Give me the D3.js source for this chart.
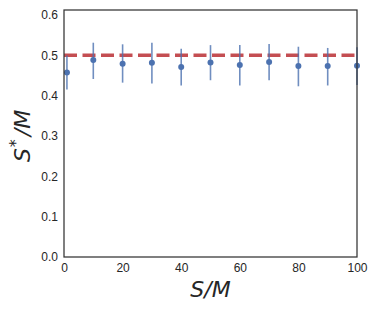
<!DOCTYPE html>
<html>
<head>
<meta charset="utf-8">
<script src="https://cdn.jsdelivr.net/npm/d3@7"></script>
<style>
  body { margin: 0; background: #fff; }
  svg { display: block; }
</style>
</head>
<body>
<div id="chart"></div>
<script>
// Data
const xs = [1, 10, 20, 30, 40, 50, 60, 70, 80, 90, 100];
const means = [0.457, 0.488, 0.479, 0.481, 0.471, 0.482, 0.476, 0.483, 0.473, 0.473, 0.474];
const lows = [0.415, 0.441, 0.432, 0.430, 0.425, 0.438, 0.425, 0.438, 0.423, 0.425, 0.426];
const highs = [0.499, 0.531, 0.527, 0.531, 0.516, 0.525, 0.525, 0.528, 0.521, 0.518, 0.520];
const refValue = 0.5;
const xTicks = [0, 20, 40, 60, 80, 100];
const yTicks = [0.0, 0.1, 0.2, 0.3, 0.4, 0.5, 0.6];

const W = 374, H = 312;
const margin = { top: 10, right: 17, bottom: 55, left: 64 };
const width = W - margin.left - margin.right;
const height = H - margin.top - margin.bottom;

const svg = d3.select("#chart").append("svg")
    .attr("width", W)
    .attr("height", H);

const g = svg.append("g")
    .attr("transform", `translate(${margin.left},${margin.top})`);

const x = d3.scaleLinear().domain([0, 100]).range([0, width]);
const y = d3.scaleLinear().domain([0, 0.612]).range([height, 0]);

// Axes (no tick marks, seaborn white style)
const xAxis = g.append("g")
    .attr("transform", `translate(0,${height})`)
    .call(d3.axisBottom(x).tickValues(xTicks).tickSize(0).tickPadding(6));
const yAxis = g.append("g")
    .call(d3.axisLeft(y).tickValues(yTicks).tickSize(0).tickPadding(6).tickFormat(d3.format(".1f")));

[xAxis, yAxis].forEach(a => {
    a.select(".domain").remove();
    a.selectAll("text")
        .style("font-family", "'Liberation Sans', Arial, sans-serif")
        .style("font-size", "12px")
        .attr("fill", "#262626");
});

// Reference dashed line
g.append("line")
    .attr("x1", x(0))
    .attr("x2", x(100))
    .attr("y1", y(refValue))
    .attr("y2", y(refValue))
    .attr("stroke", "#c44e52")
    .attr("stroke-width", 3.5)
    .attr("stroke-dasharray", "13,5.5");

// Error bars
const pts = xs.map((v, i) => ({ x: v, m: means[i], lo: lows[i], hi: highs[i] }));

g.selectAll(".err")
    .data(pts)
    .enter()
    .append("line")
    .attr("class", "err")
    .attr("x1", d => x(d.x))
    .attr("x2", d => x(d.x))
    .attr("y1", d => y(d.lo))
    .attr("y2", d => y(d.hi))
    .attr("stroke", "#4c72b0")
    .attr("stroke-opacity", 0.8)
    .attr("stroke-width", 1.6);

g.selectAll(".dot")
    .data(pts)
    .enter()
    .append("circle")
    .attr("class", "dot")
    .attr("cx", d => x(d.x))
    .attr("cy", d => y(d.m))
    .attr("r", 3)
    .attr("fill", "#4c72b0");

// Frame
g.append("rect")
    .attr("width", width)
    .attr("height", height)
    .attr("fill", "none")
    .attr("stroke", "#333")
    .attr("stroke-width", 1.25);

// Axis labels
svg.append("text")
    .attr("x", margin.left + width / 2)
    .attr("y", 297)
    .attr("text-anchor", "middle")
    .style("font-family", "'DejaVu Sans', sans-serif")
    .style("font-size", "22px")
    .style("font-style", "italic")
    .attr("fill", "#262626")
    .text("S/M");

const yl = svg.append("text")
    .attr("transform", `translate(30,${margin.top + y(0.3)}) rotate(-90)`)
    .attr("text-anchor", "middle")
    .style("font-family", "'DejaVu Sans', sans-serif")
    .style("font-size", "22px")
    .style("font-style", "italic")
    .attr("fill", "#262626");
yl.append("tspan").text("S");
yl.append("tspan").attr("dy", -9).attr("dx", 1).style("font-size", "16px").style("font-style", "normal").text("*");
yl.append("tspan").attr("dy", 9).attr("dx", 3).text("/M");
</script>
</body>
</html>
